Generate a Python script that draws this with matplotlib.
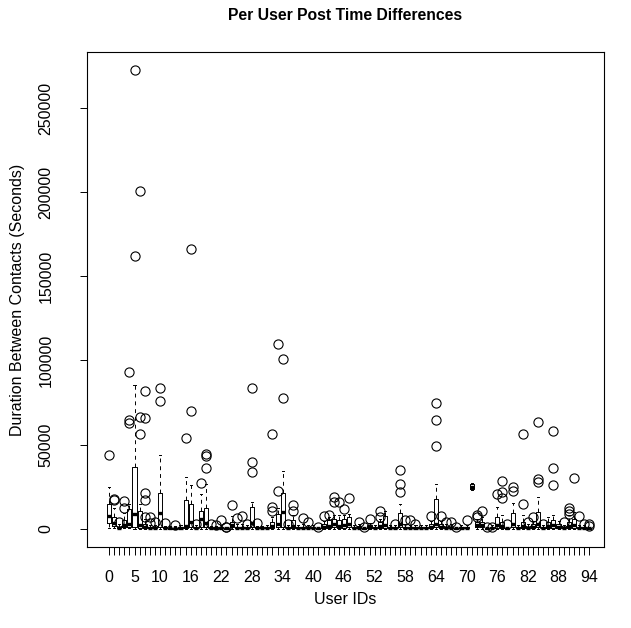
import matplotlib
matplotlib.use("Agg")
import matplotlib.pyplot as plt

plt.rcParams['font.family'] = ['Liberation Sans', 'DejaVu Sans']

user_ids = list(range(95))
tick_label_ids = [0, 5, 10, 16, 22, 28, 34, 40, 46, 52, 58, 64, 70, 76, 82, 88, 94]
y_ticks = [0, 50000, 100000, 150000, 200000, 250000]

q1 = [3600, 1800, 100, 1000, 1000, 1000, 500, 300, 100, 100,
      1200, 100, 0, 0, 100, 400, 1000, 100, 1000, 1000,
      100, 100, 100, 0, 1000, 100, 100, 100, 1200, 100,
      100, 100, 500, 1000, 1200, 100, 500, 100, 100, 100,
      100, 0, 200, 500, 1000, 500, 500, 1000, 100, 100,
      0, 200, 100, 500, 500, 100, 100, 1000, 100, 100,
      100, 100, 100, 200, 1000, 200, 100, 100, 0, 100,
      100, 23500, 1000, 1000, 0, 100, 500, 500, 0, 1000,
      100, 500, 100, 200, 1000, 100, 500, 500, 200, 100,
      500, 500, 100, 100, 0]
med = [7500, 3200, 400, 2000, 2700, 9000, 2000, 1000, 300, 400,
       9500, 300, 200, 200, 300, 1500, 4000, 300, 5800, 3600,
       300, 300, 400, 100, 2000, 400, 400, 300, 3200, 300,
       300, 300, 1500, 3000, 10100, 300, 1500, 300, 400, 400,
       300, 100, 800, 1500, 3000, 1500, 2000, 3000, 300, 500,
       100, 700, 300, 1500, 2000, 300, 300, 3000, 400, 300,
       300, 300, 300, 800, 3000, 800, 400, 400, 100, 300,
       300, 25000, 2000, 2000, 100, 300, 2000, 1500, 100, 3000,
       300, 1500, 400, 800, 3000, 300, 1500, 2000, 800, 300,
       1500, 2000, 400, 300, 100]
q3 = [14700, 7000, 1200, 5000, 11500, 36500, 10700, 3000, 900, 1000,
      21400, 800, 600, 600, 900, 17000, 14700, 900, 10700, 12500,
      900, 900, 1000, 200, 4000, 1200, 1200, 900, 12700, 900,
      800, 900, 4000, 9000, 21400, 900, 5000, 900, 1200, 1000,
      900, 200, 2500, 5000, 6000, 5000, 6000, 7000, 900, 1500,
      200, 2000, 900, 4000, 7500, 900, 900, 9100, 1200, 900,
      900, 900, 900, 2500, 17500, 2500, 1200, 1200, 200, 900,
      900, 26500, 4000, 4000, 200, 900, 7000, 4000, 300, 9100,
      900, 4000, 1200, 2500, 10000, 900, 4000, 5000, 2500, 900,
      4000, 6000, 1000, 900, 300]
whisker_lo = [500, 300, 0, 200, 200, 0, 0, 0, 0, 0,
              0, 0, 0, 0, 0, 0, 0, 0, 0, 0,
              0, 0, 0, 0, 0, 0, 0, 0, 0, 0,
              0, 0, 0, 0, 0, 0, 0, 0, 0, 0,
              0, 0, 0, 0, 0, 0, 0, 0, 0, 0,
              0, 0, 0, 0, 0, 0, 0, 0, 0, 0,
              0, 0, 0, 0, 0, 0, 0, 0, 0, 0,
              0, 23000, 0, 0, 0, 0, 0, 0, 0, 0,
              0, 0, 0, 0, 0, 0, 0, 0, 0, 0,
              0, 0, 0, 0, 0]
whisker_hi = [24600, 12500, 2500, 9500, 14700, 85400, 14700, 6000, 2000, 2200,
              43800, 1800, 1400, 1400, 2000, 31000, 26000, 2000, 20600, 26600,
              1800, 1800, 2000, 400, 7500, 2500, 3000, 2000, 15700, 1800,
              1600, 2000, 7000, 12300, 34500, 2000, 8000, 2000, 2500, 2000,
              2000, 400, 4500, 7000, 8000, 8000, 8000, 9000, 2000, 2500,
              400, 3500, 2000, 6000, 10700, 2000, 2000, 14500, 2500, 2000,
              2000, 2000, 2000, 4500, 26400, 4500, 2500, 2500, 400, 2000,
              2000, 27000, 6000, 7000, 400, 2000, 13000, 8000, 600, 15000,
              2000, 8000, 2500, 4500, 19000, 2000, 7000, 8000, 4500, 2000,
              8000, 10000, 2000, 2000, 600]
outliers = [[43600], [16800, 17600], [4000], [12100, 16600], [62700, 64400, 93400],
            [162000, 272500], [56300, 66200, 201000], [7000, 17000, 21000, 66000, 81700], [3500, 7000], [4200],
            [75900, 83800], [3600], [], [2000], [],
            [54000], [69800, 166000], [2500], [27000], [35900, 43400, 44200],
            [3000], [2000], [5200], [700, 1200], [14000],
            [6200], [7500], [3000], [33500, 39800, 83800], [3600],
            [], [], [10700, 13000, 56300], [22400, 110000], [77900, 101000],
            [3000], [10700, 14000], [], [6200], [4000],
            [], [800], [7500], [8300], [16000, 18700],
            [16000], [11500], [18000], [], [4000],
            [700], [6000], [], [6800, 10700], [],
            [], [3000], [22000, 26600, 34900], [5000], [5000],
            [3000], [], [], [7500], [49300, 64600, 74500],
            [7500], [4000], [4000], [700], [],
            [5000], [], [6800, 8000], [10500], [700],
            [1000], [20400], [18000, 21800, 28500], [3000], [22400, 25000],
            [], [14700, 56300], [4000], [7000], [28000, 29400, 63600],
            [3000], [], [25800, 35900, 58300], [], [4000],
            [9000, 10500, 12000], [30000], [7500], [2500], [1500, 2500]]

stats = []
for i in range(len(user_ids)):
    stats.append(dict(q1=q1[i], med=med[i], q3=q3[i], whislo=whisker_lo[i],
                      whishi=whisker_hi[i], fliers=outliers[i]))

fig = plt.figure(figsize=(6.31, 6.28), dpi=100)
ax = fig.add_axes([87/631, 1 - 547/628, (604-87)/631, (547-52)/628])

ax.bxp(stats, positions=user_ids, widths=0.8, capwidths=0.4, showfliers=True,
       boxprops=dict(color='black', linewidth=0.7),
       medianprops=dict(color='black', linewidth=2.4, solid_capstyle='butt'),
       whiskerprops=dict(color='black', linewidth=0.7, linestyle=(0, (4, 4))),
       capprops=dict(color='black', linewidth=0.7),
       flierprops=dict(marker='o', markerfacecolor='none', markeredgecolor='black',
                       markersize=6.6, markeredgewidth=0.8, linestyle='none'))

ax.set_xlim(-4.3, 96.9)
ax.set_ylim(-10900, 283400)

ax.set_xticks(user_ids)
ax.set_xticklabels([str(u) if u in tick_label_ids else '' for u in user_ids])
ax.set_yticks(y_ticks)
ax.set_yticklabels([str(v) for v in y_ticks])
ax.tick_params(axis='x', length=5.5, width=0.7, pad=11, labelsize=11.5, direction='out')
ax.tick_params(axis='y', length=5, width=0.7, pad=19, labelsize=11.5, direction='out',
               labelrotation=90)
for lab in ax.get_yticklabels():
    lab.set_verticalalignment('center')

for s in ax.spines.values():
    s.set_linewidth(0.8)
    s.set_color('black')

fig.text((87+604)/2/631, 1 - 15/628, 'Per User Post Time Differences',
         ha='center', va='center', fontsize=11.3, fontweight='bold')
fig.text((87+604)/2/631, 1 - 600/628, 'User IDs', ha='center', va='center', fontsize=11.5)
fig.text(18/631, 1 - 300/628, 'Duration Between Contacts (Seconds)', ha='center',
         va='center', rotation=90, fontsize=11.5)

fig.savefig('out.png', dpi=100)
